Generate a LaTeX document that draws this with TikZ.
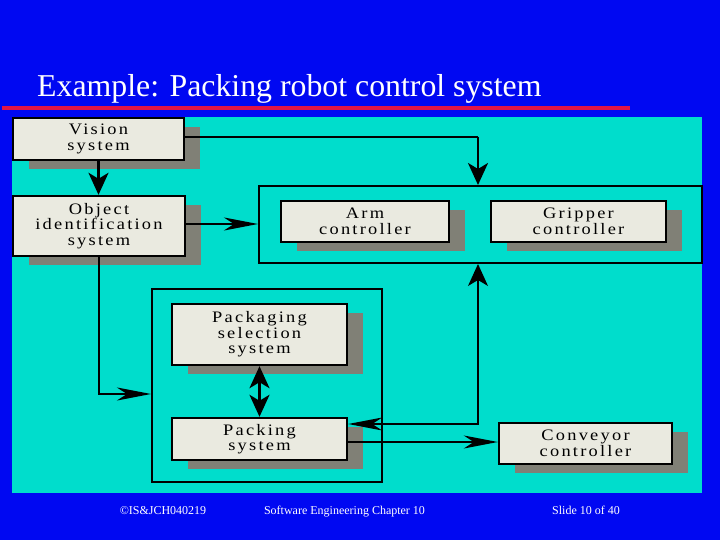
\documentclass[tikz,border=0pt]{standalone}
\usepackage{fontspec}
\setmainfont{Liberation Serif}
\newfontfamily\boxfont[LetterSpace=14,FakeStretch=1.15]{Liberation Serif}
\usetikzlibrary{arrows.meta,shadows}
\definecolor{slideblue}{RGB}{0,8,242}
\definecolor{panelcyan}{RGB}{0,221,204}
\definecolor{rulered}{RGB}{225,20,70}
\definecolor{shadowgrey}{RGB}{128,128,118}
\definecolor{boxfill}{RGB}{234,234,224}
\tikzset{
  sysbox/.style={draw=black, line width=2.4pt, fill=boxfill, inner sep=0pt,
    align=center, font=\boxfont\fontsize{16}{15.5}\selectfont,
    drop shadow={shadow xshift=16pt, shadow yshift=-9pt, fill=shadowgrey, opacity=1}},
  groupbox/.style={draw=black, line width=2pt, inner sep=0pt},
  thinline/.style={line width=1.4pt},
  thickline/.style={line width=2.6pt},
  vhead/.tip={Stealth[length=22pt,width=20pt,inset=6pt]},
  hhead/.tip={Stealth[length=34pt,width=13pt,inset=10pt]},
  foot/.style={text=white, font=\fontsize{12}{12}\selectfont, anchor=base},
}
\begin{document}
\begin{tikzpicture}[x=1pt,y=-1pt]
\useasboundingbox (0,0) rectangle (720,540);
\fill[slideblue] (0,0) rectangle (720,540);
\fill[panelcyan] (12,117) rectangle (702,493);
\fill[rulered] (2,106) rectangle (630,110);
\node[anchor=base west, inner sep=0pt, text=white, font=\fontsize{31.8}{32}\selectfont] (title) at (37,97) {Example: Packing robot control system};

% group boxes
\node[groupbox, minimum width=443pt, minimum height=77pt] (g1) at (480.5,224.5) {};
\node[groupbox, minimum width=230pt, minimum height=193pt] (g2) at (267,385.5) {};

% system boxes
\node[sysbox, minimum width=171pt, minimum height=42pt] (vis) at (98.5,139) {Vision\\system};
\node[sysbox, minimum width=172pt, minimum height=60pt] (obj) at (99,226) {Object\\identification\\system};
\node[sysbox, minimum width=168pt, minimum height=41pt] (arm) at (365,221.5) {Arm\\controller};
\node[sysbox, minimum width=175pt, minimum height=41pt] (grip) at (578.5,221.5) {Gripper\\controller};
\node[sysbox, minimum width=175pt, minimum height=61pt] (psel) at (259.5,334.5) {Packaging\\selection\\system};
\node[sysbox, minimum width=175pt, minimum height=42pt] (pack) at (259.5,439) {Packing\\system};
\node[sysbox, minimum width=173pt, minimum height=41pt] (conv) at (585.5,443.5) {Conveyor\\controller};

% connectors
\coordinate (c1) at (478,137);
\coordinate (c2) at (obj.south |- 0,394);
\coordinate (c3) at (478,424);
\coordinate (c4) at (347,442);

\draw[thickline, -{vhead}] (vis.south) -- (vis.south |- obj.north);
\draw[thinline] (vis.east |- c1) -- (c1);
\draw[thickline, -{vhead}] (c1) -- (c1 |- g1.north);
\draw[thickline, -{hhead}] (obj.east |- 0,224) -- (g1.west |- 0,224);
\draw[thickline, -{hhead}] (obj.south) -- (c2) -- (c2 -| g2.west);
\draw[thickline, {vhead}-{vhead}] (psel.south) -- (pack.north);
\draw[thinline, {vhead}-{hhead}] (c3 |- g1.south) -- (c3) -- (c3 -| pack.east);
\draw[thinline, -{hhead}] (c4) -- (c4 -| conv.west);

% footer
\node[foot] (f1) at (163,514) {©IS\&JCH040219};
\node[foot] (f2) at (344.5,514) {Software Engineering Chapter 10};
\node[foot] (f3) at (586,514) {Slide 10 of 40};
\end{tikzpicture}
\end{document}
